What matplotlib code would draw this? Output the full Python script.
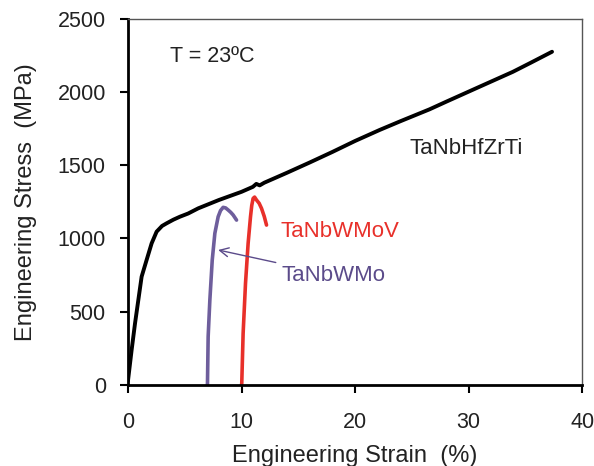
import matplotlib

matplotlib.use("Agg")

import matplotlib.pyplot as plt

plt.rcParams["font.family"] = ["Liberation Sans", "DejaVu Sans"]

# TaNbHfZrTi (black)
hf_strain = [0.0, 0.32, 0.62, 0.91, 1.2, 1.64, 2.08, 2.52, 3.0, 3.4, 4.0, 4.57, 5.3, 6.18, 8.0, 10.0,
             11.0, 11.3, 11.6, 12.0, 14.0, 16.0, 18.0, 20.0, 22.16, 24.0, 26.56, 28.0, 30.96, 33.9,
             35.5, 37.35]
hf_stress = [30, 239, 421, 580, 739, 853, 966, 1046, 1085, 1103, 1128, 1148, 1170, 1205, 1262, 1318,
             1352, 1372, 1362, 1380, 1448, 1518, 1590, 1665, 1740, 1800, 1881, 1932, 2035, 2137,
             2200, 2274]

# TaNbWMo (purple)
mo_strain = [6.98, 7.0, 7.06, 7.21, 7.42, 7.65, 7.94, 8.15, 8.38, 8.6, 8.82, 9.05, 9.26, 9.56]
mo_stress = [0, 10, 330, 580, 853, 1035, 1148, 1190, 1212, 1208, 1194, 1178, 1160, 1125]

# TaNbWMoV (red)
v_strain = [10.0, 10.02, 10.14, 10.35, 10.58, 10.79, 10.9, 11.02, 11.15, 11.32, 11.55, 11.76, 12.0, 12.2]
v_stress = [0, 11, 352, 694, 966, 1148, 1225, 1273, 1282, 1262, 1240, 1205, 1150, 1091]

x_ticks = [0, 10, 20, 30, 40]
y_ticks = [0, 500, 1000, 1500, 2000, 2500]

fig = plt.figure(figsize=(5.94, 4.66), dpi=100)
ax = fig.add_axes([0.2155, 0.174, 0.7645, 0.786])

ax.plot(hf_strain, hf_stress, color="black", linewidth=2.8, solid_capstyle="round", solid_joinstyle="round")
ax.plot(mo_strain, mo_stress, color="#6E5E9C", linewidth=2.6, solid_capstyle="round", solid_joinstyle="round")
ax.plot(v_strain, v_stress, color="#E8302A", linewidth=2.6, solid_capstyle="round", solid_joinstyle="round")

ax.set_xlim(0, 40)
ax.set_ylim(0, 2500)
ax.set_xticks(x_ticks)
ax.set_yticks(y_ticks)
ax.tick_params(axis="both", direction="out", length=6, width=1.5, labelsize=15.5, colors="black",
               labelcolor="#222222")
ax.tick_params(axis="x", pad=13.5)
ax.tick_params(axis="y", pad=10)

for side in ["left", "bottom"]:
    ax.spines[side].set_linewidth(2.0)
    ax.spines[side].set_color("black")
for side in ["top", "right"]:
    ax.spines[side].set_linewidth(1.0)
    ax.spines[side].set_color("#555555")

ax.set_xlabel("Engineering Strain  (%)", fontsize=17, color="#222222", labelpad=9)
ax.set_ylabel("Engineering Stress  (MPa)", fontsize=17, color="#222222", labelpad=14.5)

ax.text(3.7, 2245, "T = 23ºC", fontsize=15.5, color="#222222", va="center")
ax.text(24.8, 1617, "TaNbHfZrTi", fontsize=16, color="#222222", va="center")
ax.text(13.4, 1050, "TaNbWMoV", fontsize=16, color="#E8302A", va="center")
ax.annotate("TaNbWMo", xy=(7.94, 921), xytext=(13.5, 750), fontsize=16, color="#5B4B8A",
            va="center", ha="left",
            arrowprops=dict(arrowstyle="->", color="#5B4B8A", linewidth=1.0,
                            shrinkA=2, shrinkB=0))

fig.savefig("out.png", dpi=100)
